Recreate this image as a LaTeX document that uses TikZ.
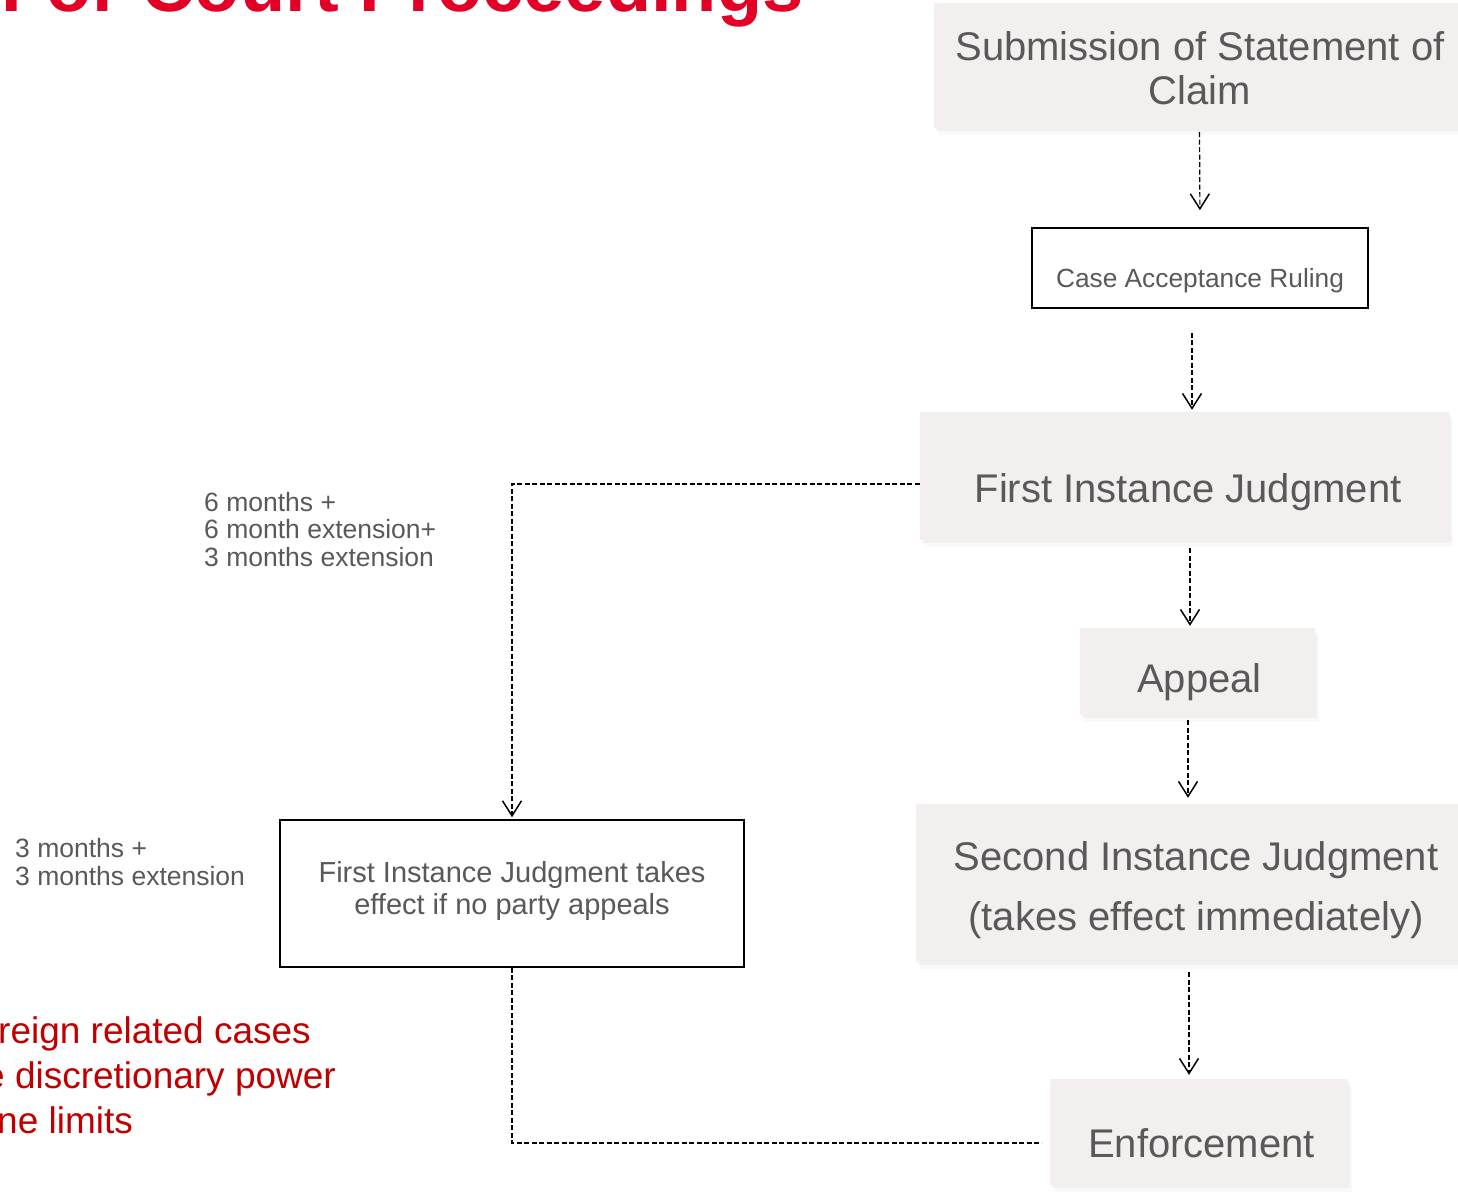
\documentclass[tikz,border=0pt]{standalone}
\usepackage{fontspec}
\setmainfont{Liberation Sans}
\usetikzlibrary{arrows.meta,shadows,calc}
\definecolor{boxfill}{RGB}{242,239,238}
\definecolor{txtgray}{RGB}{89,89,89}
\definecolor{titlered}{RGB}{226,0,38}
\definecolor{notered}{RGB}{192,0,0}
\begin{document}
\begin{tikzpicture}[x=1pt,y=-1pt,
  graybox/.style={rectangle, fill=boxfill, draw=none, inner sep=0pt,
    drop shadow={opacity=0.05, shadow xshift=4pt, shadow yshift=-7pt},
    drop shadow={opacity=0.07, shadow xshift=2pt, shadow yshift=-3pt}},
  whitebox/.style={rectangle, draw=black, line width=1.6pt, fill=white, inner sep=0pt},
  boxtxt/.style={text=txtgray, align=center, inner sep=0pt, anchor=base, font=\fontsize{40}{44}\selectfont},
  lbl/.style={text=txtgray, align=left, inner sep=0pt, anchor=base west, font=\fontsize{26.5}{27.5}\selectfont},
  rednote/.style={text=notered, inner sep=0pt, anchor=base west, font=\fontsize{37}{44}\selectfont},
  conn/.style={draw=black, dash pattern=on 5pt off 2.5pt, line width=1.2pt,
    -{Straight Barb[length=15pt, width=19pt, line width=1.5pt]}},
  link/.style={draw=black, dash pattern=on 5pt off 2.5pt, line width=1.2pt},
]
\useasboundingbox (0,0) rectangle (1458,1192);
\clip (0,0) rectangle (1458,1192);

% title (cut off at the top)
\node[text=titlered, inner sep=0pt, anchor=base west, font=\fontsize{74}{80}\bfseries\selectfont] (title) at (1.5,11) {For Court Proceedings};

% boxes
\node[graybox, minimum width=531pt, minimum height=125pt] (sub) at (1199.5,65.5) {};
\node[whitebox, minimum width=336pt, minimum height=80pt] (case) at (1200,268) {};
\node[graybox, minimum width=529pt, minimum height=128pt] (fij) at (1184.5,476) {};
\node[graybox, minimum width=235pt, minimum height=87pt] (appeal) at (1197.5,671.5) {};
\node[graybox, minimum width=562pt, minimum height=158pt] (sec) at (1197,883) {};
\node[graybox, minimum width=298pt, minimum height=106pt] (enf) at (1199,1132) {};
\node[whitebox, minimum width=464pt, minimum height=147pt] (take) at (512,893.5) {};

% box texts (multi-line nodes: base = last line)
\node[boxtxt] (subtxt) at (1200,104) {Submission of Statement of\\Claim};
\node[boxtxt, font=\fontsize{26.3}{30}\selectfont] (casetxt) at (1200,287) {Case Acceptance Ruling};
\node[boxtxt] (fijtxt) at (1188,502) {First Instance Judgment};
\node[boxtxt] (appealtxt) at (1199.5,692) {Appeal};
\node[boxtxt, font=\fontsize{40}{60}\selectfont] (sectxt) at (1196,930) {Second Instance Judgment\\(takes effect immediately)};
\node[boxtxt] (enftxt) at (1201.5,1157) {Enforcement};
\node[boxtxt, font=\fontsize{29}{32}\selectfont] (taketxt) at (512,914) {First Instance Judgment takes\\effect if no party appeals};

% side labels
\node[lbl] (lab6) at (204,566) {6 months +\\6 month extension+\\3 months extension};
\node[lbl] (lab3) at (15,885) {3 months +\\3 months extension};

% red note (cut off at the left)
\node[rednote] (red1) at (-2,1043) {reign related cases};
\node[rednote] (red2) at (-16,1088) {e discretionary power};
\node[rednote] (red3) at (-3,1133) {ne limits};

% connectors
\coordinate (ax2) at (1192,0);
\coordinate (ax3) at (1190,0);
\coordinate (ax4) at (1188,0);
\coordinate (ax5) at (1189,0);
\coordinate (j1) at (512,484);
\coordinate (j2) at (512,1143);

\draw[conn, shorten <=4pt, shorten >=17pt] (sub.south) -- (case.north);
\draw[conn, shorten <=24pt, shorten >=2pt] (case.south -| ax2) -- (fij.north -| ax2);
\draw[conn, shorten <=8pt, shorten >=2pt] (fij.south -| ax3) -- (appeal.north -| ax3);
\draw[conn, shorten <=5pt, shorten >=6pt] (appeal.south -| ax4) -- (sec.north -| ax4);
\draw[conn, shorten <=10pt, shorten >=4pt] (sec.south -| ax5) -- (enf.north -| ax5);
\draw[conn, shorten >=2pt] (fij.west |- j1) -- (j1) -- (take.north);
\draw[link, shorten >=8pt] (take.south) -- (j2) -- (enf.west |- j2);
\end{tikzpicture}
\end{document}
